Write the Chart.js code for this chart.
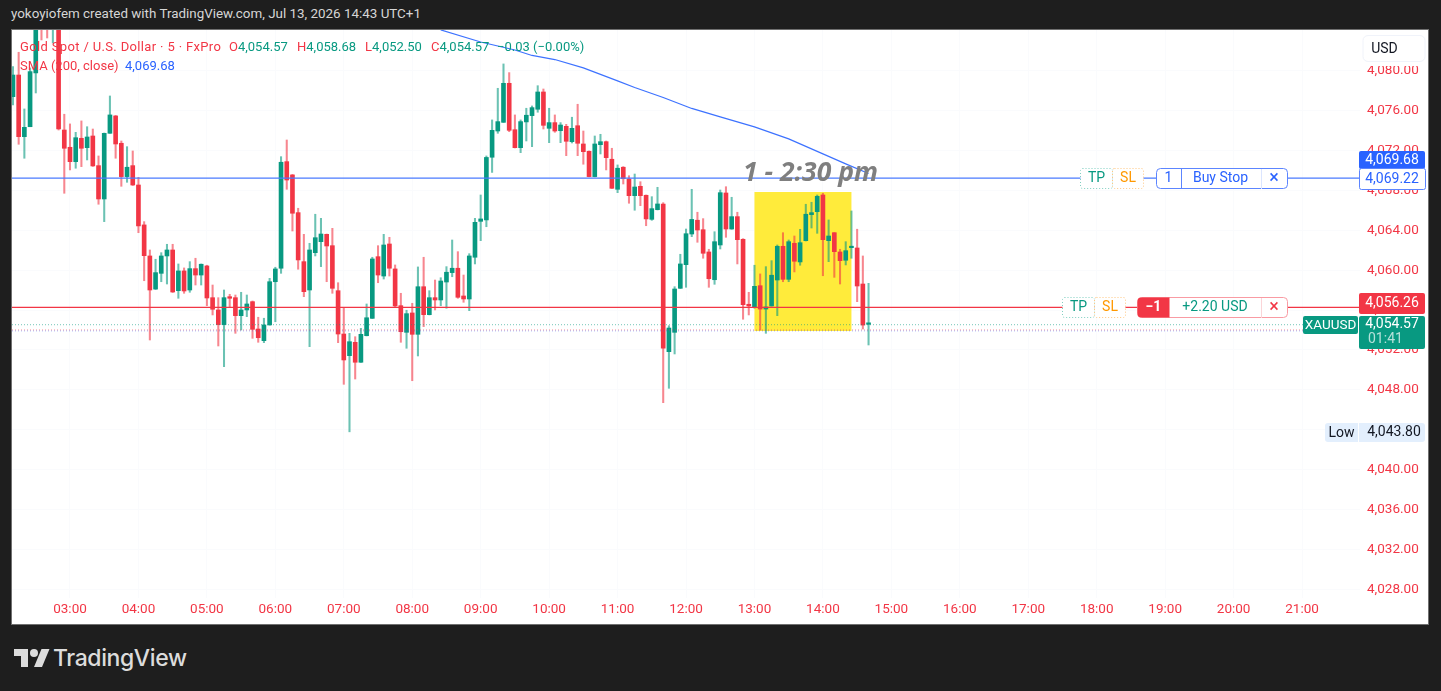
<!DOCTYPE html>
<html>
<head>
<meta charset="utf-8">
<title>XAUUSD 5m</title>
<script src="https://cdn.jsdelivr.net/npm/chart.js@4"></script>
<style>
  html, body { margin: 0; height: 100%; background: #1e1e1e; overflow: hidden; }
  body { position: relative; width: 1441px; height: 691px; font-family: Roboto, sans-serif; }
  #chart { position: absolute; left: 12px; top: 30px; background: #fff; outline: 1px solid #707070; }
  .txt { position: absolute; white-space: nowrap; font-size: 13px; line-height: 16px; }
  .red { color: #f23645; }
  .green { color: #089981; }
  .blue { color: #2962ff; }
  #title { left: 11px; top: 6px; color: #d6d6d6; font-size: 13.4px; }
  #logo { position: absolute; left: 14px; top: 645px; }
  #brand { left: 53px; top: 643px; font: 500 23px/30px Inter, Roboto, sans-serif; color: #dcdcdc; letter-spacing: -0.4px; }
</style>
</head>
<body>
<div class="txt" id="title">yokoyiofem created with TradingView.com, Jul 13, 2026 14:43 UTC+1</div>
<canvas id="chart" width="1416" height="594"></canvas>

<div class="txt red" style="left:20px;top:39px;letter-spacing:.35px">Gold Spot / U.S. Dollar · 5 · FxPro</div>
<div class="txt" style="left:229px;top:39px"><span class="red">O</span><span class="green">4,054.57</span></div>
<div class="txt" style="left:297px;top:39px"><span class="red">H</span><span class="green">4,058.68</span></div>
<div class="txt" style="left:365px;top:39px"><span class="red">L</span><span class="green">4,052.50</span></div>
<div class="txt" style="left:431px;top:39px"><span class="red">C</span><span class="green">4,054.57</span></div>
<div class="txt green" style="left:497px;top:39px">−0.03 (−0.00%)</div>
<div class="txt red" style="left:20px;top:58px">SMA (200, close)</div>
<div class="txt blue" style="left:125px;top:58px">4,069.68</div>

<svg id="logo" width="36" height="28" viewBox="0 0 36 28"><path fill="#dcdcdc" d="M14 22H7V11H0V4h14v18zM28 22h-8l7.5-18h8L28 22z"/><circle fill="#dcdcdc" cx="20" cy="8" r="4"/></svg>
<div class="txt" id="brand">TradingView</div>

<script>
const barTimes = [
  "02:10","02:15","02:20","02:25","02:30","02:35","02:40","02:45","02:50","02:55",
  "03:00","03:05","03:10","03:15","03:20","03:25","03:30","03:35","03:40","03:45","03:50","03:55",
  "04:00","04:05","04:10","04:15","04:20","04:25","04:30","04:35","04:40","04:45","04:50","04:55",
  "05:00","05:05","05:10","05:15","05:20","05:25","05:30","05:35","05:40","05:45","05:50","05:55",
  "06:00","06:05","06:10","06:15","06:20","06:25","06:30","06:35","06:40","06:45","06:50","06:55",
  "07:00","07:05","07:10","07:15","07:20","07:25","07:30","07:35","07:40","07:45","07:50","07:55",
  "08:00","08:05","08:10","08:15","08:20","08:25","08:30","08:35","08:40","08:45","08:50","08:55",
  "09:00","09:05","09:10","09:15","09:20","09:25","09:30","09:35","09:40","09:45","09:50","09:55",
  "10:00","10:05","10:10","10:15","10:20","10:25","10:30","10:35","10:40","10:45","10:50","10:55",
  "11:00","11:05","11:10","11:15","11:20","11:25","11:30","11:35","11:40","11:45","11:50","11:55",
  "12:00","12:05","12:10","12:15","12:20","12:25","12:30","12:35","12:40","12:45","12:50","12:55",
  "13:00","13:05","13:10","13:15","13:20","13:25","13:30","13:35","13:40","13:45","13:50","13:55",
  "14:00","14:05","14:10","14:15","14:20","14:25","14:30","14:35","14:40"
];

const opens = [
  4077.38,4079.55,4073.37,4074.37,4079.76,4086.9,4086.9,4085.3,4087.1,4074.04,
  4072.31,4070.87,4073.21,4072.27,4073.44,4070.47,4067.13,4073.71,4075.45,4072.71,4069.37,4070.47,
  4068.53,4064.53,4061.42,4058.1,4059.68,4061.42,4062.02,4057.94,4059.92,4058.01,4060.15,4059.51,
  4060.42,4057.24,4056.01,4054.54,4057.34,4057.24,4055.44,4056.01,4056.84,4054.1,4052.93,4054.51,
  4058.84,4060.19,4070.87,4069.54,4065.76,4060.85,4058.01,4061.75,4062.85,4063.59,4062.45,4057.94,
  4053.6,4051.43,4052.77,4050.77,4053.43,4055.17,4061.35,4059.41,4062.62,4060.12,4056.44,4053.77,
  4055.71,4053.57,4058.34,4055.54,4057.24,4057.01,4058.81,4059.75,4060.19,4057.41,4057.11,4061.29,
  4064.89,4065.03,4071.31,4073.94,4074.81,4078.72,4074.07,4072.27,4074.85,4075.48,4076.12,4077.85,
  4074.21,4074.78,4073.97,4074.41,4072.87,4074.47,4072.64,4071.91,4069.37,4072.57,4072.87,4071.11,
  4068.1,4070.31,4069.13,4067.46,4068.4,4067.5,4065.09,4066.06,4066.63,4051.83,4053.77,4058.18,
  4060.55,4063.62,4065,4064.05,4061.82,4059.04,4062.52,4067.73,4064.12,4065.36,4063.09,4056.58,
  4056.34,4058.44,4056.1,4056.41,4059.01,4062.39,4059.08,4062.69,4060.82,4062.95,4065.56,4065.86,
  4067.53,4062.95,4063.75,4061.82,4060.99,4062.25,4062.22,4058.61,4054.57
];

const highs = [
  4080.39,4081.83,4076.15,4080.26,4086.6,4088.1,4088.1,4088.1,4088.1,4075.62,
  4074.65,4073.81,4074.95,4074.37,4074.14,4071.44,4073.74,4077.45,4075.5,4072.94,4072.37,4071.94,
  4069.3,4064.86,4062.02,4061.09,4061.75,4062.59,4062.59,4060.62,4060.22,4060.85,4061.19,4060.62,
  4060.49,4058.51,4057.24,4058.01,4057.58,4057.51,4057.78,4057.51,4056.91,4055.28,4055.18,4059.18,
  4060.29,4071.37,4073.04,4069.59,4066.2,4063.59,4062.69,4065.6,4065.19,4063.62,4064.19,4058.74,
  4056.18,4053.67,4053.33,4054.17,4056.61,4061.29,4062.45,4063.59,4063.29,4060.52,4057.68,4055.98,
  4056.68,4060.32,4061.29,4057.94,4059.01,4059.24,4060.35,4063.02,4061.85,4059.51,4061.65,4065.19,
  4067.53,4071.44,4075.05,4078.22,4080.66,4079.79,4075.55,4075.05,4076.22,4076.45,4078.48,4078.15,
  4076.22,4075.55,4074.78,4074.61,4075.32,4076.62,4073.94,4071.94,4073.44,4073.61,4072.94,4072.21,
  4070.54,4070.37,4069.46,4069.63,4068.86,4067.53,4067.36,4068.3,4066.76,4054.43,4058.34,4061.59,
  4064.12,4068.1,4065.8,4065.16,4062.09,4063.85,4068.03,4068.36,4067.3,4065.8,4063.15,4057.78,
  4060.49,4059.62,4060.35,4060.95,4062.52,4063.75,4063.02,4063.42,4064.09,4066.6,4066.8,4067.53,
  4067.7,4065.03,4063.77,4062.09,4062.85,4065.93,4064.1,4061.42,4058.68
];

const lows = [
  4076.55,4072.61,4071.21,4074.37,4077.75,4083.06,4083.26,4082.76,4074.04,4067.7,
  4070.04,4070.21,4070.37,4071.04,4070.39,4066.6,4064.86,4073.71,4071.21,4068.4,4068.8,4068.48,
  4063.75,4058.94,4053,4058.06,4058.84,4058.61,4057.76,4057.18,4057.68,4057.78,4058.51,4058.51,
  4056.44,4055.51,4052.4,4050.33,4056.24,4053.67,4054,4055.34,4053.17,4052.77,4052.73,4054.48,
  4054.83,4059.68,4068.1,4063.92,4060.09,4057.34,4052.33,4061.42,4060.35,4058.84,4057.68,4052.73,
  4048.56,4043.8,4049.09,4050.75,4053.41,4055.15,4058.74,4059.11,4059.41,4056.34,4052.77,4052.17,
  4048.92,4051.4,4054.34,4055.51,4056.01,4056.44,4056.18,4059.34,4057.18,4056.78,4055.94,4060.62,
  4062.95,4064.35,4069.79,4073.71,4074.79,4073.87,4072.24,4071.77,4072.94,4072.37,4075.82,4074.14,
  4072.77,4073.81,4072.77,4071.47,4072.74,4071.47,4070.61,4069.35,4069.34,4071.64,4070.04,4068.18,
  4067.76,4068.63,4066.7,4066,4066.46,4064.45,4064.99,4066.03,4046.72,4048.16,4051.6,4058.16,
  4058.28,4063.35,4062.79,4061.19,4058.28,4058.58,4062.12,4063.29,4064.09,4060.62,4055.08,4055.51,
  4056.18,4054,4053.67,4056.39,4055.44,4058.84,4058.84,4059.82,4060.49,4062.92,4064.22,4063.69,
  4059.44,4060.85,4059.28,4058.61,4060.52,4061.19,4056.84,4054.1,4052.5
];

const closes = [
  4079.55,4073.37,4074.31,4079.89,4085.6,4085.3,4085.3,4087.1,4074.14,4072.21,
  4070.87,4073.27,4072.21,4073.34,4070.44,4067.13,4073.71,4075.55,4072.64,4069.37,4070.31,4068.53,
  4064.43,4061.45,4058.01,4059.75,4061.42,4062.02,4057.81,4059.92,4057.91,4060.15,4059.51,4060.59,
  4057.21,4056.08,4054.54,4057.24,4057.18,4055.44,4056.01,4056.61,4054.07,4053.23,4054.51,4058.84,
  4060.12,4070.81,4069.03,4065.7,4061.02,4057.84,4062.02,4063.25,4063.62,4062.42,4058.18,4053.6,
  4051,4052.83,4050.77,4053.57,4055.23,4061.12,4059.51,4062.52,4060.19,4056.41,4053.83,4055.64,
  4053.57,4058.34,4055.54,4057.24,4057.01,4058.91,4059.79,4060.19,4057.28,4057.11,4061.42,4064.79,
  4065.13,4071.29,4074.01,4074.88,4078.72,4074.01,4072.27,4074.88,4075.52,4076.28,4077.85,4074.51,
  4074.78,4073.94,4074.54,4072.91,4074.21,4072.71,4071.87,4069.37,4072.64,4072.87,4071.27,4068.2,
  4070.21,4069.16,4067.46,4068.33,4067.46,4065.13,4066.16,4066.63,4052.17,4054.2,4058.11,4060.62,
  4063.65,4065.08,4064.02,4061.69,4059.14,4062.85,4067.76,4064.12,4065.36,4063.05,4056.54,4056.41,
  4058.38,4056.1,4056.31,4059.49,4062.39,4059.08,4062.85,4060.89,4062.75,4065.6,4065.76,4067.4,
  4063.05,4063.42,4061.85,4060.95,4061.95,4062.35,4058.41,4054.5,4054.57
];

const smaTimes = ["08:25","09:00","09:30","09:45","10:05","10:30","11:00","11:15","11:40","12:05","12:30","13:00","13:30","14:00","14:20","14:40"];
const smaValues = [4084.07,4082.86,4082.06,4081.51,4081.1,4080.26,4078.96,4078.3,4077.3,4076.2,4075.35,4074.35,4073.15,4071.65,4070.65,4069.68];

const timeTicks = ["03:00","04:00","05:00","06:00","07:00","08:00","09:00","10:00","11:00","12:00","13:00","14:00","15:00","16:00","17:00","18:00","19:00","20:00","21:00"];
const priceTicks = [4080,4076,4072,4068,4064,4060,4056,4052,4048,4044,4040,4036,4032,4028];

const buyStopPrice = 4069.22;
const positionPrice = 4056.26;
const askPrice = 4054.55;
const bidPrice = 4054.02;
const lastLinePrice = 4053.92;
const lowPrice = 4043.8;

// highlighted session box and its note
const zoneTimes = ["13:00", "14:25"];
const zonePrices = [4053.9, 4067.83];
const zoneNote = "1 - 2:30 pm";

const RED = "#f23645";
const GREEN = "#089981";
const BLUE = "#2962ff";

function toMinutes(t) {
  const p = t.split(":");
  return Number(p[0]) * 60 + Number(p[1]);
}
function money(v) {
  return v.toLocaleString("en-US", { minimumFractionDigits: 2, maximumFractionDigits: 2 });
}

const xMin = 129.16;
const xMax = 1310.8;
const isUp = opens.map((o, i) => closes[i] >= o);

function hLine(value, color, dash) {
  return {
    type: "line",
    data: [{ x: xMin, y: value }, { x: xMax, y: value }],
    borderColor: color,
    borderWidth: 1.2,
    borderDash: dash || [],
    pointRadius: 0,
    order: 1,
  };
}

// draws a small rounded tag, x and y are page pixels
function box(ctx, x, y, w, h, o) {
  ctx.save();
  ctx.beginPath();
  ctx.roundRect(x, y, w, h, o.radius === undefined ? 2 : o.radius);
  if (o.fill) {
    ctx.fillStyle = o.fill;
    ctx.fill();
  }
  if (o.stroke) {
    ctx.strokeStyle = o.stroke;
    ctx.lineWidth = 1;
    ctx.setLineDash(o.dash || []);
    ctx.stroke();
  }
  ctx.restore();
}
function label(ctx, s, x, y, color, align, font) {
  ctx.fillStyle = color;
  ctx.textAlign = align || "center";
  ctx.textBaseline = "middle";
  ctx.font = font || "14px Roboto";
  ctx.fillText(s, x, y);
}
function tpSl(ctx, x, y) {
  box(ctx, x + 0.5, y + 0.5, 32, 20, { fill: "#fff", stroke: "#7fcfc0", dash: [1, 2] });
  box(ctx, x + 32.5, y + 0.5, 31, 20, { fill: "#fff", stroke: "#ffc680", dash: [1, 2] });
  label(ctx, "TP", x + 16.5, y + 10.5, GREEN);
  label(ctx, "SL", x + 48, y + 10.5, "#ff9800");
}
function vSep(ctx, x, y, h, color) {
  ctx.fillStyle = color;
  ctx.fillRect(x, y, 1, h);
}

const zonePlugin = {
  id: "zone",
  beforeDatasetsDraw(chart) {
    const { ctx, scales } = chart;
    const x0 = scales.x.getPixelForValue(toMinutes(zoneTimes[0]));
    const x1 = scales.x.getPixelForValue(toMinutes(zoneTimes[1]));
    const y0 = scales.y.getPixelForValue(zonePrices[1]);
    const y1 = scales.y.getPixelForValue(zonePrices[0]);
    ctx.fillStyle = "#ffeb3b";
    ctx.fillRect(x0, y0, x1 - x0, y1 - y0);
  },
};

const tagsPlugin = {
  id: "tags",
  afterDraw(chart) {
    const { ctx, scales } = chart;
    ctx.save();
    ctx.translate(-12, -30); // page pixels from here on
    const py = (v) => scales.y.getPixelForValue(v) + 30;

    // note over the box
    ctx.fillStyle = "#7f7f7f";
    ctx.textAlign = "left";
    ctx.textBaseline = "middle";
    ctx.font = "italic bold 26.5px 'Open Sans'";
    ctx.fillText(zoneNote, scales.x.getPixelForValue(770) + 12, py(4069.7));

    // buy stop order
    const by = Math.round(py(buyStopPrice));
    tpSl(ctx, 1080, by - 10);
    box(ctx, 1156.5, by - 9.5, 131, 20, { fill: "#fff", stroke: "#5c85ff", radius: 4 });
    vSep(ctx, 1181, by - 9, 20, "#5c85ff");
    vSep(ctx, 1261, by - 9, 20, "#dbe5ff");
    label(ctx, "1", 1168.5, by + 0.5, BLUE);
    label(ctx, "Buy Stop", 1220.5, by + 0.5, BLUE);
    label(ctx, "×", 1274, by, BLUE, "center", "18px Roboto");

    // open position
    const ry = Math.round(py(positionPrice));
    tpSl(ctx, 1062, ry - 10);
    box(ctx, 1137.5, ry - 9.5, 150, 20, { fill: "#fff", stroke: "#f99ba3", radius: 4 });
    box(ctx, 1137.5, ry - 9.5, 32, 20, { fill: RED, radius: [4, 0, 0, 4] });
    vSep(ctx, 1261, ry - 9, 20, "#fbd5d8");
    label(ctx, "−1", 1153.5, ry + 0.5, "#fff", "center", "bold 14px Roboto");
    label(ctx, "+2.20 USD", 1215, ry + 0.5, GREEN);
    label(ctx, "×", 1274, ry, RED, "center", "18px Roboto");

    // price scale tags
    box(ctx, 1359, 151, 66, 18, { fill: BLUE, radius: 2 });
    label(ctx, money(4069.68), 1392, 160, "#fff");
    box(ctx, 1359.5, 168.5, 66, 21, { fill: "#fff", stroke: "#5c85ff", radius: 2 });
    label(ctx, money(buyStopPrice), 1392, 179, BLUE);
    box(ctx, 1359, 293, 66, 21, { fill: RED, radius: 2 });
    label(ctx, money(positionPrice), 1392, 303.5, "#fff");
    box(ctx, 1359, 316, 66, 33, { fill: GREEN, radius: 2 });
    label(ctx, "4,054.57", 1392, 324.5, "#fff");
    label(ctx, "01:41", 1368, 339.5, "rgba(255,255,255,0.7)", "left");
    box(ctx, 1303, 316, 55, 18, { fill: GREEN, radius: 2 });
    label(ctx, "XAUUSD", 1330.5, 325.5, "#fff", "center", "13.5px Roboto");

    // session low
    const ly = Math.round(py(lowPrice));
    box(ctx, 1325, ly - 9, 33, 19, { fill: "#e3effd", radius: [3, 0, 0, 3] });
    label(ctx, "Low", 1341.5, ly + 1, "#131722", "center", "14px Roboto");
    box(ctx, 1359, ly - 9, 66, 19, { fill: "#e3effd", radius: [0, 3, 3, 0] });
    label(ctx, money(lowPrice), 1394, ly + 0.5, "#131722", "center", "14px Roboto");

    // currency button, the white below it cuts the top of the first price label
    ctx.fillStyle = "#fff";
    ctx.fillRect(1362, 34, 64, 32);
    box(ctx, 1363, 35.5, 62, 26, { fill: "#fff", stroke: "#f0f3fa", radius: 5 });
    label(ctx, "USD", 1384.5, 49.5, "#131722", "center", "14px Roboto");
    ctx.restore();
  },
};

new Chart(document.getElementById("chart"), {
  type: "bar",
  data: {
    datasets: [
      {
        label: "wick",
        data: barTimes.map((t, i) => ({ x: toMinutes(t), y: [lows[i], highs[i]] })),
        backgroundColor: isUp.map((up) => (up ? "rgba(8,153,129,0.6)" : "rgba(242,54,69,0.6)")),
        barThickness: 1.4,
        grouped: false,
        order: 3,
      },
      {
        label: "body",
        data: barTimes.map((t, i) => ({ x: toMinutes(t), y: [opens[i], closes[i]] })),
        backgroundColor: isUp.map((up) => (up ? GREEN : RED)),
        barThickness: 4,
        minBarLength: 1.5,
        grouped: false,
        order: 2,
      },
      {
        type: "line",
        label: "SMA",
        data: smaTimes.map((t, i) => ({ x: toMinutes(t), y: smaValues[i] })),
        borderColor: "#3d72ff",
        borderWidth: 1.2,
        pointRadius: 0,
        order: 1,
      },
      hLine(buyStopPrice, "#4a7bff"),
      hLine(positionPrice, RED),
      hLine(askPrice, "rgba(8,153,129,0.45)", [1, 2]),
      hLine(bidPrice, "rgba(242,54,69,0.4)", [1, 2]),
      hLine(lastLinePrice, "rgba(41,98,255,0.35)", [1, 2]),
    ],
  },
  options: {
    responsive: false,
    animation: false,
    devicePixelRatio: 1,
    layout: { autoPadding: false, padding: 0 },
    plugins: { legend: { display: false }, tooltip: { enabled: false } },
    scales: {
      x: {
        type: "linear",
        offset: false,
        min: xMin,
        max: xMax,
        afterBuildTicks(scale) {
          scale.ticks = timeTicks.map((t) => ({ value: toMinutes(t) }));
        },
        afterFit(scale) {
          scale.height = 26;
          scale.paddingLeft = 0;
          scale.paddingRight = 0;
        },
        grid: { color: "#fafbfd", drawTicks: false, offset: false },
        border: { display: false },
        ticks: {
          autoSkip: false,
          maxRotation: 0,
          padding: 4,
          color: RED,
          font: { family: "Roboto", size: 13.5 },
          callback(value) {
            return timeTicks[timeTicks.findIndex((t) => toMinutes(t) === value)];
          },
        },
      },
      y: {
        type: "linear",
        position: "right",
        min: 4027.15,
        max: 4084.06,
        afterBuildTicks(scale) {
          scale.ticks = priceTicks.map((v) => ({ value: v }));
        },
        afterFit(scale) {
          scale.width = 68;
          scale.paddingTop = 0;
          scale.paddingBottom = 0;
        },
        grid: { color: "#fafbfd", drawTicks: false },
        border: { display: false },
        ticks: {
          padding: 7,
          color: RED,
          font: { family: "Roboto", size: 13.5 },
          callback: (v) => money(v),
        },
      },
    },
  },
  plugins: [zonePlugin, tagsPlugin],
});
</script>
</body>
</html>
